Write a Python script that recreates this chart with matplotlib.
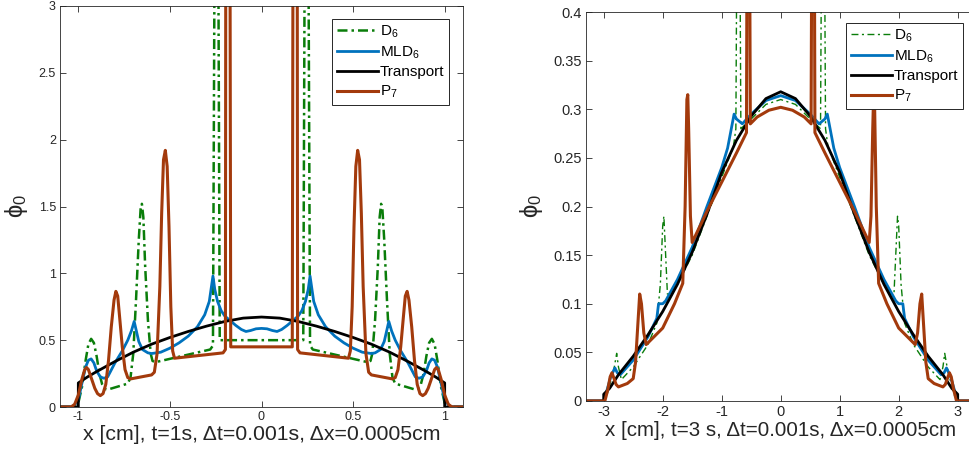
import numpy as np
import matplotlib.pyplot as plt

plt.rcParams['font.family'] = ['Liberation Sans', 'DejaVu Sans']
plt.rcParams['mathtext.fontset'] = 'custom'
plt.rcParams['mathtext.rm'] = 'Liberation Sans'
plt.rcParams['mathtext.it'] = 'Liberation Sans:italic'
plt.rcParams['mathtext.default'] = 'regular'

# ---- left panel, t = 1 s (left halves, curves are symmetric about x=0)
tr1_x = [-1.10, -1.0, -1.0, -0.95, -0.9, -0.8, -0.7, -0.6, -0.5, -0.4, -0.3, -0.2, -0.1, 0]
tr1_y = [0, 0, 0.18, 0.225, 0.265, 0.34, 0.41, 0.47, 0.52, 0.565, 0.605, 0.64, 0.665, 0.673]

d6_1x = [-1.10, -1.03, -1.0, -0.98, -0.96, -0.945, -0.93, -0.915, -0.90, -0.885, -0.87, -0.855,
         -0.84, -0.73, -0.715, -0.70, -0.685, -0.67, -0.66, -0.653, -0.645, -0.635, -0.62, -0.605,
         -0.595, -0.58, -0.28, -0.265, -0.256, -0.236, -0.228, 0]
d6_1y = [0, 0, 0.03, 0.15, 0.35, 0.47, 0.51, 0.48, 0.38, 0.25, 0.17, 0.135,
         0.13, 0.175, 0.22, 0.40, 0.80, 1.25, 1.48, 1.52, 1.42, 1.05, 0.65, 0.40,
         0.345, 0.335, 0.43, 0.46, 3.5, 3.5, 0.50, 0.50]

mld_1x = [-1.10, -1.03, -1.0, -0.98, -0.96, -0.945, -0.93, -0.915, -0.90, -0.88, -0.86, -0.84,
          -0.80, -0.76, -0.73, -0.71, -0.695, -0.685, -0.67, -0.65, -0.62, -0.60, -0.55, -0.50,
          -0.45, -0.40, -0.35, -0.31, -0.285, -0.265, -0.255, -0.24, -0.22, -0.20, -0.17, -0.14,
          -0.11, -0.085, -0.06, -0.03, 0]
mld_1y = [0, 0, 0.05, 0.18, 0.30, 0.35, 0.36, 0.33, 0.27, 0.225, 0.215, 0.225,
          0.33, 0.42, 0.50, 0.57, 0.64, 0.58, 0.49, 0.43, 0.405, 0.40, 0.41, 0.44,
          0.48, 0.53, 0.60, 0.69, 0.79, 0.98, 0.88, 0.79, 0.72, 0.68, 0.645, 0.61,
          0.58, 0.565, 0.572, 0.585, 0.588]

p7_1x = [-1.10, -1.04, -1.02, -1.0, -0.98, -0.965, -0.955, -0.945, -0.93, -0.91, -0.895, -0.88,
         -0.865, -0.85, -0.835, -0.82, -0.805, -0.795, -0.785, -0.775, -0.76, -0.745, -0.73, -0.715,
         -0.60, -0.585, -0.57, -0.555, -0.545, -0.535, -0.525, -0.515, -0.505, -0.495, -0.485, -0.475,
         -0.21, -0.197, -0.195, -0.172, -0.168, 0]
p7_1y = [0, 0, 0.02, 0.09, 0.21, 0.28, 0.295, 0.28, 0.22, 0.14, 0.10, 0.085,
         0.10, 0.17, 0.35, 0.60, 0.80, 0.865, 0.83, 0.68, 0.45, 0.28, 0.22, 0.21,
         0.24, 0.26, 0.40, 0.90, 1.45, 1.85, 1.92, 1.80, 1.35, 0.75, 0.42, 0.365,
         0.405, 0.43, 3.5, 3.5, 0.45, 0.45]

# ---- right panel, t = 3 s
tr3_x = [-3.3, -3.0, -3.0, -2.9, -2.75, -2.5, -2.25, -2.0, -1.75, -1.5, -1.25, -1.0, -0.75, -0.5, -0.25, 0]
tr3_y = [0, 0, 0.007, 0.013, 0.027, 0.046, 0.068, 0.092, 0.12, 0.153, 0.192, 0.235, 0.268, 0.293, 0.311, 0.318]

d6_3x = [-3.3, -3.0, -2.95, -2.88, -2.82, -2.78, -2.75, -2.7, -2.5, -2.25, -2.1, -2.04, -2.0, -1.98,
         -1.95, -1.92, -1.85, -1.75, -1.5, -1.25, -1.0, -0.8, -0.76, -0.745, -0.69, -0.675, -0.5, -0.25, 0]
d6_3y = [0, 0, 0.005, 0.02, 0.035, 0.049, 0.035, 0.022, 0.035, 0.058, 0.08, 0.12, 0.18, 0.19,
         0.15, 0.11, 0.11, 0.12, 0.15, 0.19, 0.23, 0.262, 0.28, 0.45, 0.45, 0.28, 0.29, 0.305, 0.31]

mld_3x = [-3.3, -3.0, -2.95, -2.88, -2.81, -2.77, -2.72, -2.5, -2.25, -2.1, -2.07, -2.0, -1.95,
          -1.75, -1.5, -1.25, -1.0, -0.9, -0.79, -0.75, -0.65, -0.5, -0.25, 0]
mld_3y = [0, 0, 0.01, 0.025, 0.034, 0.029, 0.027, 0.042, 0.066, 0.085, 0.1, 0.1, 0.103,
          0.125, 0.158, 0.2, 0.24, 0.26, 0.295, 0.29, 0.285, 0.295, 0.309, 0.314]

p7_3x = [-3.3, -2.98, -2.93, -2.89, -2.86, -2.83, -2.79, -2.75, -2.6, -2.5, -2.46, -2.42, -2.39,
         -2.36, -2.32, -2.28, -2.0, -1.8, -1.66, -1.62, -1.59, -1.575, -1.56, -1.53, -1.5, -1.25,
         -1.0, -0.75, -0.58, -0.572, -0.525, -0.515, -0.4, -0.2, 0]
p7_3y = [0, 0, 0.012, 0.025, 0.029, 0.024, 0.017, 0.0145, 0.018, 0.023, 0.04, 0.08, 0.11,
         0.10, 0.07, 0.058, 0.075, 0.1, 0.121, 0.2, 0.31, 0.315, 0.28, 0.19, 0.163, 0.195,
         0.225, 0.255, 0.276, 0.45, 0.45, 0.285, 0.292, 0.299, 0.302]

labels = ['D$_6$', 'MLD$_6$', 'Transport', 'P$_7$']
green, blue, brown, axcol = '#0a7d0a', '#0072BD', '#A33A0C', '#262626'


def mirror(xh, yh):
    xh = np.asarray(xh, float)
    yh = np.asarray(yh, float)
    return np.r_[xh, -xh[-2::-1]], np.r_[yh, yh[-2::-1]]


def style(ax, size):
    ax.tick_params(direction='in', top=True, right=True, length=4, width=0.6,
                   colors=axcol, labelsize=size, pad=3)
    for s in ax.spines.values():
        s.set_color(axcol)
        s.set_linewidth(0.6)


fig = plt.figure(figsize=(9.69, 4.49), dpi=100)

ax1 = fig.add_axes([60 / 969, 1 - 407 / 449, 403 / 969, 401 / 449])
ax1.plot(*mirror(d6_1x, d6_1y), color=green, lw=1.8, ls=(0, (4, 1.6, 1, 1.6)), label=labels[0])
ax1.plot(*mirror(mld_1x, mld_1y), color=blue, lw=2.0, label=labels[1])
ax1.plot(*mirror(tr1_x, tr1_y), color='black', lw=2.0, label=labels[2])
ax1.plot(*mirror(p7_1x, p7_1y), color=brown, lw=2.2, label=labels[3])
ax1.set_xlim(-1.1, 1.1)
ax1.set_ylim(0, 3)
ax1.set_xticks([-1, -0.5, 0, 0.5, 1])
ax1.set_xticklabels(['-1', '-0.5', '0', '0.5', '1'])
ax1.set_yticks([0, 0.5, 1, 1.5, 2, 2.5, 3])
ax1.set_yticklabels(['0', '0.5', '1', '1.5', '2', '2.5', '3'])
ax1.set_xlabel('x [cm], t=1s, \u0394t=0.001s, \u0394x=0.0005cm', fontsize=15.3, color=axcol, labelpad=1)
ax1.set_ylabel(r'$\phi_0$', fontsize=17, color=axcol, math_fontfamily='dejavusans', labelpad=6)
style(ax1, 9)
leg1 = ax1.legend(loc='upper right', bbox_to_anchor=(0.965, 0.968), fontsize=11,
                  handlelength=2.7, handletextpad=0.1, borderpad=0.3, labelspacing=0.3,
                  fancybox=False, framealpha=1, edgecolor=axcol, borderaxespad=0)
leg1.get_frame().set_linewidth(0.7)

ax2 = fig.add_axes([586 / 969, 1 - 401 / 449, 389.4 / 969, 389 / 449])
ax2.plot(*mirror(d6_3x, d6_3y), color=green, lw=1.0, ls=(0, (5, 2.5, 1.5, 2.5)), label=labels[0])
ax2.plot(*mirror(mld_3x, mld_3y), color=blue, lw=2.0, label=labels[1])
ax2.plot(*mirror(tr3_x, tr3_y), color='black', lw=2.0, label=labels[2])
ax2.plot(*mirror(p7_3x, p7_3y), color=brown, lw=2.2, label=labels[3])
ax2.set_xlim(-3.3, 3.3)
ax2.set_ylim(0, 0.4)
ax2.set_xticks([-3, -2, -1, 0, 1, 2, 3])
ax2.set_xticklabels(['-3', '-2', '-1', '0', '1', '2', '3'])
ax2.set_yticks([0, 0.05, 0.1, 0.15, 0.2, 0.25, 0.3, 0.35, 0.4])
ax2.set_yticklabels(['0', '0.05', '0.1', '0.15', '0.2', '0.25', '0.3', '0.35', '0.4'])
ax2.set_xlabel('x [cm], t=3 s, \u0394t=0.001s, \u0394x=0.0005cm', fontsize=14.8, color=axcol, labelpad=1)
ax2.set_ylabel(r'$\phi_0$', fontsize=17, color=axcol, math_fontfamily='dejavusans', labelpad=6)
style(ax2, 10.5)
leg2 = ax2.legend(loc='upper right', bbox_to_anchor=(0.968, 0.972), fontsize=11,
                  handlelength=2.7, handletextpad=0.1, borderpad=0.3, labelspacing=0.3,
                  fancybox=False, framealpha=1, edgecolor=axcol, borderaxespad=0)
leg2.get_frame().set_linewidth(0.7)

fig.savefig('out.png', dpi=100, facecolor='white')
